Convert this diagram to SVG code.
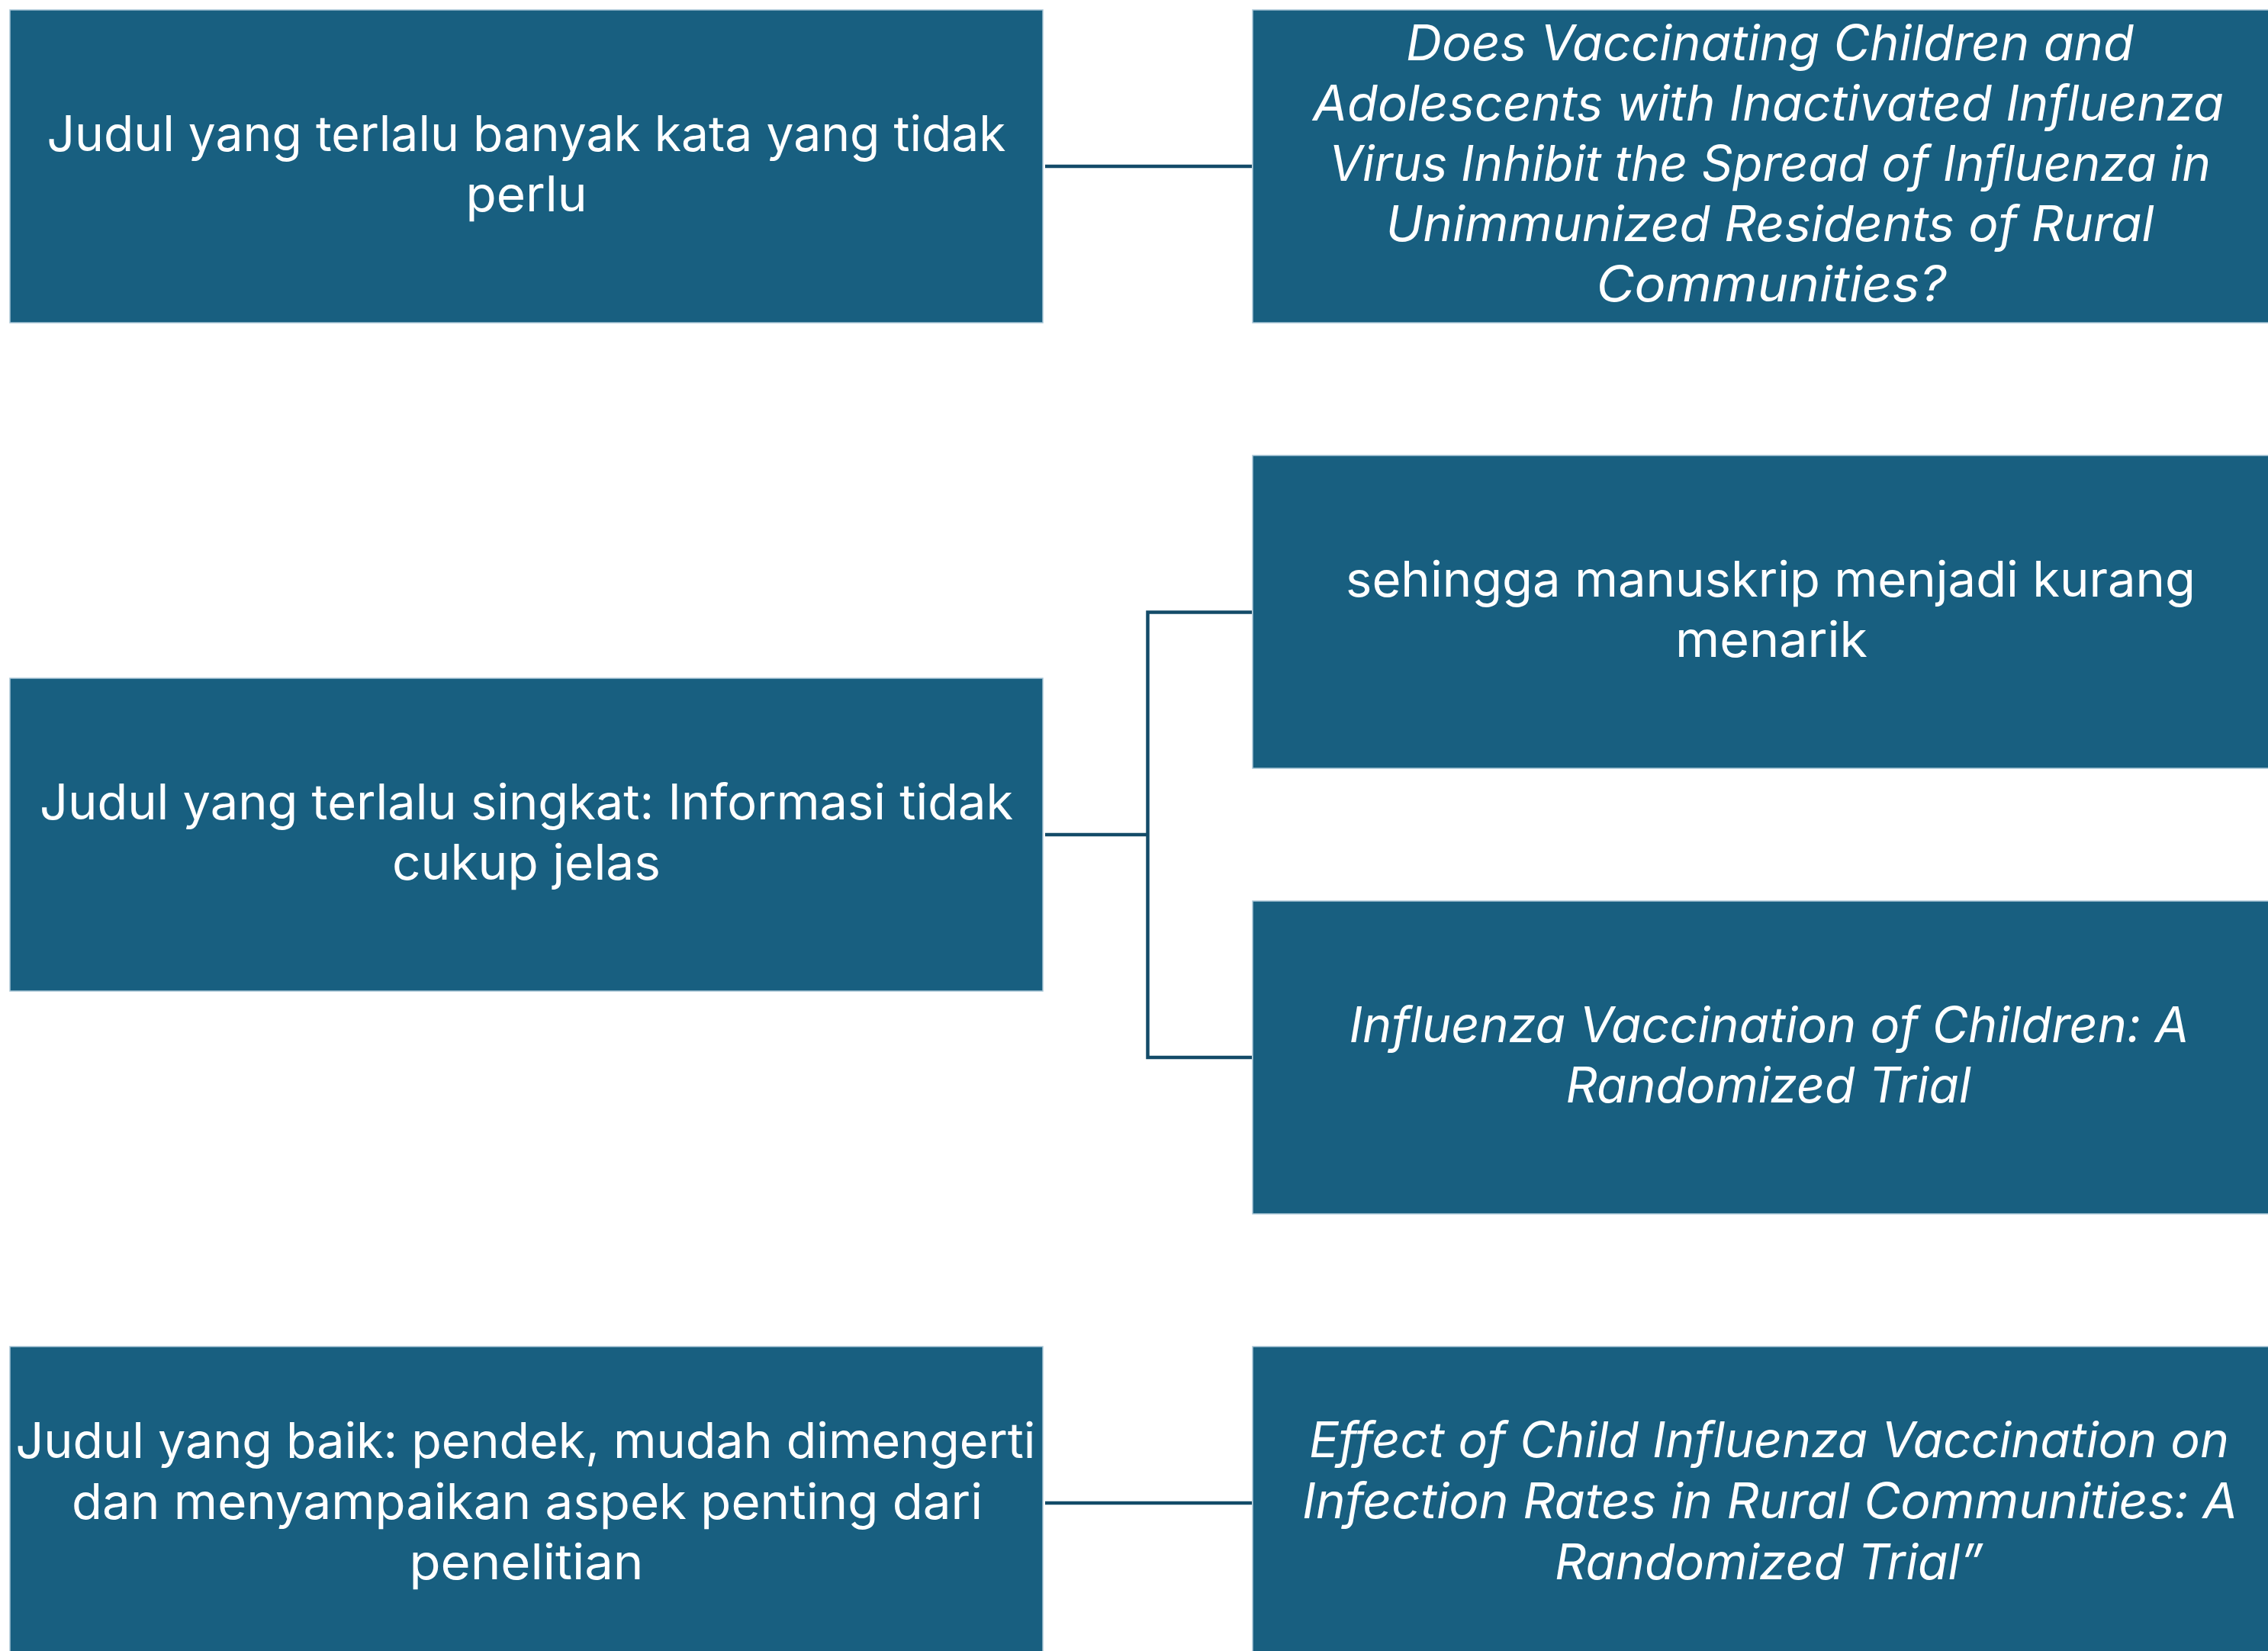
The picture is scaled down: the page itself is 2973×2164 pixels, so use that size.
<svg xmlns="http://www.w3.org/2000/svg" width="2973" height="2164" viewBox="0 0 2973 2164">
<style>
.box{fill:#185f80;stroke:#a9c6d6;stroke-width:1.5}
.t{font-family:Inter,"Open Sans","Liberation Sans",sans-serif;font-size:64px;fill:#ffffff;text-anchor:middle}
.i{font-style:italic}
.c{fill:none;stroke:#134b68;stroke-width:4.5}
</style>
<rect width="2973" height="2164" fill="#ffffff"/>
<g id="connectors">
<line class="c" x1="1370" y1="218" x2="1641" y2="218"/>
<polyline class="c" points="1370,1094 1504.5,1094"/>
<polyline class="c" points="1641,802.5 1504.5,802.5 1504.5,1386 1641,1386"/>
<line class="c" x1="1370" y1="1970" x2="1641" y2="1970"/>
</g>
<g id="node-left-1">
<rect class="box" x="13" y="13" width="1354" height="410"/>
<text class="t" x="690" y="198" textLength="1257" lengthAdjust="spacingAndGlyphs">Judul yang terlalu banyak kata yang tidak</text>
<text class="t" x="690" y="277" textLength="159" lengthAdjust="spacingAndGlyphs">perlu</text>
</g>
<g id="node-right-1">
<rect class="box" x="1642" y="13" width="1360" height="410"/>
<text class="t i" x="2320" y="79" textLength="954" lengthAdjust="spacingAndGlyphs">Does Vaccinating Children and</text>
<text class="t i" x="2318" y="158" textLength="1194" lengthAdjust="spacingAndGlyphs">Adolescents with Inactivated Influenza</text>
<text class="t i" x="2320" y="237" textLength="1156" lengthAdjust="spacingAndGlyphs">Virus Inhibit the Spread of Influenza in</text>
<text class="t i" x="2320" y="316" textLength="1007" lengthAdjust="spacingAndGlyphs">Unimmunized Residents of Rural</text>
<text class="t i" x="2322" y="395" textLength="459" lengthAdjust="spacingAndGlyphs">Communities?</text>
</g>
<g id="node-left-2">
<rect class="box" x="13" y="889" width="1354" height="410"/>
<text class="t" x="690" y="1074" textLength="1276" lengthAdjust="spacingAndGlyphs">Judul yang terlalu singkat: Informasi tidak</text>
<text class="t" x="690" y="1153" textLength="352" lengthAdjust="spacingAndGlyphs">cukup jelas</text>
</g>
<g id="node-right-2">
<rect class="box" x="1642" y="597" width="1360" height="410"/>
<text class="t" x="2321" y="782" textLength="1114" lengthAdjust="spacingAndGlyphs">sehingga manuskrip menjadi kurang</text>
<text class="t" x="2322" y="861" textLength="252" lengthAdjust="spacingAndGlyphs">menarik</text>
</g>
<g id="node-right-3">
<rect class="box" x="1642" y="1181" width="1360" height="410"/>
<text class="t i" x="2319" y="1366" textLength="1101" lengthAdjust="spacingAndGlyphs">Influenza Vaccination of Children: A</text>
<text class="t i" x="2318" y="1445" textLength="531" lengthAdjust="spacingAndGlyphs">Randomized Trial</text>
</g>
<g id="node-left-3">
<rect class="box" x="13" y="1765" width="1354" height="420"/>
<text class="t" x="689" y="1911" textLength="1337" lengthAdjust="spacingAndGlyphs">Judul yang baik: pendek, mudah dimengerti</text>
<text class="t" x="691" y="1991" textLength="1194" lengthAdjust="spacingAndGlyphs">dan menyampaikan aspek penting dari</text>
<text class="t" x="690" y="2070" textLength="307" lengthAdjust="spacingAndGlyphs">penelitian</text>
</g>
<g id="node-right-4">
<rect class="box" x="1642" y="1765" width="1360" height="420"/>
<text class="t i" x="2319" y="1910" textLength="1206" lengthAdjust="spacingAndGlyphs">Effect of Child Influenza Vaccination on</text>
<text class="t i" x="2320" y="1990" textLength="1226" lengthAdjust="spacingAndGlyphs">Infection Rates in Rural Communities: A</text>
<text class="t i" x="2319" y="2070" textLength="562" lengthAdjust="spacingAndGlyphs">Randomized Trial”</text>
</g>
</svg>
